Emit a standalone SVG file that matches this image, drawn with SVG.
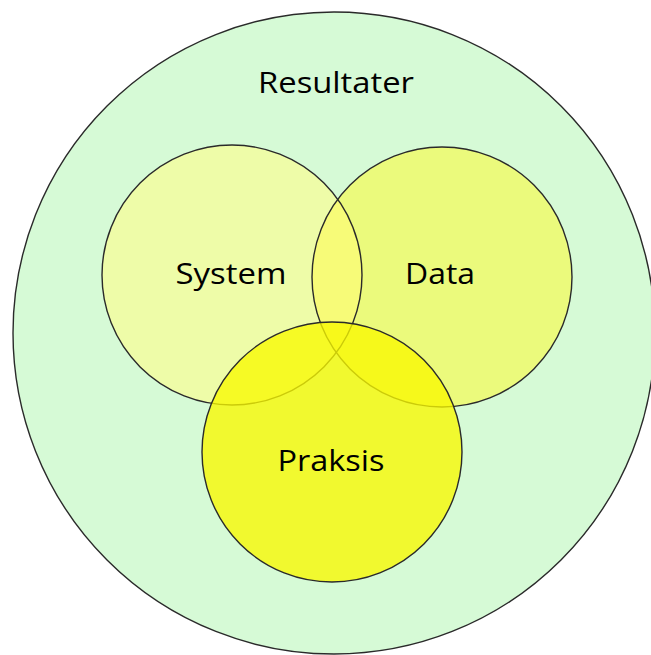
<svg xmlns="http://www.w3.org/2000/svg" width="651" height="655" viewBox="0 0 651 655">
<defs>
  <clipPath id="clipSystem"><circle cx="232" cy="275" r="130"/></clipPath>
</defs>
<style>
  .c { stroke: #2a2a2a; stroke-width: 1.4; }
  .o { fill: none; stroke: #2a2a2a; stroke-width: 1.4; }
  .t { font-family: "Open Sans", "Noto Sans", sans-serif; font-size: 30px; fill: #000; text-anchor: middle; }
</style>
<rect width="651" height="655" fill="#ffffff"/>
<g id="resultater">
  <circle class="c" cx="334" cy="333" r="321" fill="#d6fad6"/>
  <text class="t" x="336" y="93" textLength="156" lengthAdjust="spacingAndGlyphs">Resultater</text>
</g>
<g id="system">
  <circle cx="232" cy="275" r="130" fill="#eefca8"/>
</g>
<g id="data">
  <circle cx="442" cy="277" r="130" fill="#ebfa7c"/>
  <circle cx="442" cy="277" r="130" fill="#f7fb78" clip-path="url(#clipSystem)"/>
  <circle class="o" cx="232" cy="275" r="130"/>
  <circle class="o" cx="442" cy="277" r="130"/>
  <text class="t" x="440" y="284" textLength="70" lengthAdjust="spacingAndGlyphs">Data</text>
</g>
<g id="system-label">
  <text class="t" x="231" y="284" textLength="111" lengthAdjust="spacingAndGlyphs">System</text>
</g>
<g id="praksis">
  <circle class="c" cx="332" cy="452" r="130" fill="#f8f800" fill-opacity="0.78"/>
  <text class="t" x="331" y="471" textLength="107" lengthAdjust="spacingAndGlyphs">Praksis</text>
</g>
<g id="connectors"></g>
</svg>
